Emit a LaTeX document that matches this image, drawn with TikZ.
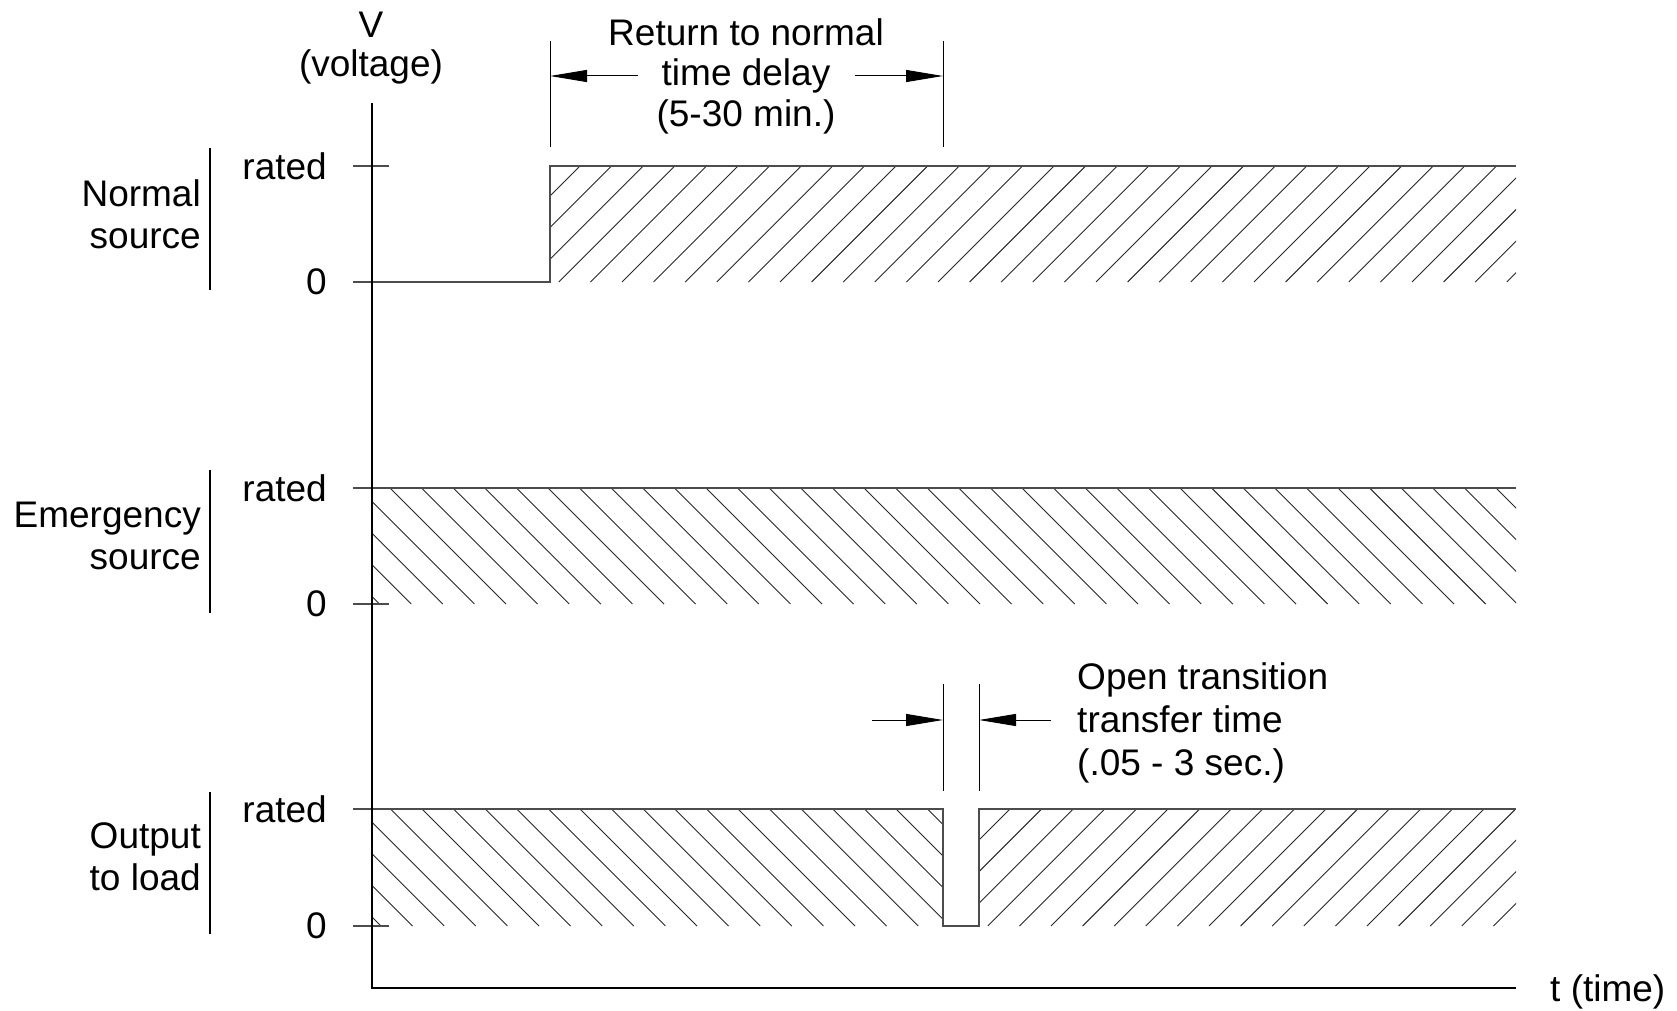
\documentclass[tikz,border=0pt]{standalone}
\usepackage{fontspec}
\setmainfont{Liberation Sans}
\usetikzlibrary{arrows.meta}
\begin{document}
\begin{tikzpicture}[x=1pt,y=-1pt,
  lbl/.style={inner sep=0pt, font=\fontsize{37}{42}\selectfont},
  axisline/.style={line width=1.3pt, black},
  band/.style={line width=1.6pt, black!70},
  hatch/.style={line width=0.9pt, black!85},
  dim/.style={line width=1pt, black},
  dimarrow/.style={dim, -{Triangle[length=37pt,width=12pt]}},
  bar/.style={line width=1.2pt, black}]
\useasboundingbox (0,0) rectangle (1677,1011);

% ---------- hatching ----------
\begin{scope}
  \clip (550,166) rectangle (1516,282);
  \foreach \k in {-1,...,34}
    \draw[hatch] ({746+\k*31.6-282},282) -- ({746+\k*31.6-166},166);
\end{scope}
\begin{scope}
  \clip (372,488) rectangle (1516,604);
  \foreach \k in {-5,...,36}
    \draw[hatch] ({-98+\k*31.6+488},488) -- ({-98+\k*31.6+604},604);
\end{scope}
\begin{scope}
  \clip (372,809) rectangle (943,926);
  \foreach \k in {-21,...,2}
    \draw[hatch] ({87+\k*31.6+809},809) -- ({87+\k*31.6+926},926);
\end{scope}
\begin{scope}
  \clip (979,809) rectangle (1516,926);
  \foreach \k in {-1,...,20}
    \draw[hatch] ({1819+\k*31.6-926},926) -- ({1819+\k*31.6-809},809);
\end{scope}

% ---------- coordinates ----------
\coordinate (vtop) at (372,103);
\coordinate (O) at (372,988);
\coordinate (tend) at (1516,988);

% ---------- band outlines ----------
\draw[band] (353,282) -- (550,282) -- (550,166) -- (1516,166);
\draw[band] (353,166) -- (389,166);
\draw[band] (353,488) -- (1516,488);
\draw[band] (353,604) -- (389,604);
\draw[band] (353,809) -- (943,809) -- (943,926) -- (979,926) -- (979,809) -- (1516,809);
\draw[band] (353,926) -- (389,926);

% ---------- axes ----------
\draw[axisline] (vtop) -- (O) -- (tend);

% ---------- group brackets ----------
\draw[bar] (210,148) -- (210,290);
\draw[bar] (210,470) -- (210,613);
\draw[bar] (210,792) -- (210,934);

% ---------- dimension: return to normal ----------
\coordinate (d1a) at (550,41);  \coordinate (d1b) at (550,147);
\coordinate (d2a) at (943,41);  \coordinate (d2b) at (943,147);
\draw[dim] (d1a) -- (d1b);
\draw[dim] (d2a) -- (d2b);
\coordinate (a1s) at (638,76); \coordinate (a1e) at (550,76);
\coordinate (a2s) at (855,76); \coordinate (a2e) at (943,76);
\draw[dimarrow] (a1s) -- (a1e);
\draw[dimarrow] (a2s) -- (a2e);

% ---------- dimension: open transition ----------
\coordinate (g1a) at (943,684); \coordinate (g1b) at (943,791);
\coordinate (g2a) at (979,684); \coordinate (g2b) at (979,791);
\draw[dim] (g1a) -- (g1b);
\draw[dim] (g2a) -- (g2b);
\coordinate (b1s) at (872,720);  \coordinate (b1e) at (943,720);
\coordinate (b2s) at (1051,720); \coordinate (b2e) at (979,720);
\draw[dimarrow] (b1s) -- (b1e);
\draw[dimarrow] (b2s) -- (b2e);

% ---------- labels ----------
\node[lbl, font=\fontsize{37}{39}\selectfont, anchor=north, align=center] (vlab) at (371,12) {V\\(voltage)};
\node[lbl, font=\fontsize{37}{40.5}\selectfont, anchor=north, align=center] (rtn) at (746,18) {Return to normal\\time delay\\(5-30 min.)};
\node[lbl, font=\fontsize{37}{43}\selectfont, anchor=north west, align=left] (otr) at (1077,662) {Open transition\\transfer time\\(.05 - 3 sec.)};
\node[lbl, anchor=west] (tlab) at (1550,992) {t (time)};

\node[lbl, anchor=east, align=right] (ns) at (201,214) {Normal\\source};
\node[lbl, anchor=east, align=right] (es) at (201,536) {Emergency\\source};
\node[lbl, anchor=east, align=right] (ol) at (201,857) {Output\\to load};

\node[lbl, anchor=east] (r1) at (327,166) {rated};
\node[lbl, anchor=east] (z1) at (327,282) {0};
\node[lbl, anchor=east] (r2) at (327,488) {rated};
\node[lbl, anchor=east] (z2) at (327,604) {0};
\node[lbl, anchor=east] (r3) at (327,809) {rated};
\node[lbl, anchor=east] (z3) at (327,926) {0};
\end{tikzpicture}
\end{document}
